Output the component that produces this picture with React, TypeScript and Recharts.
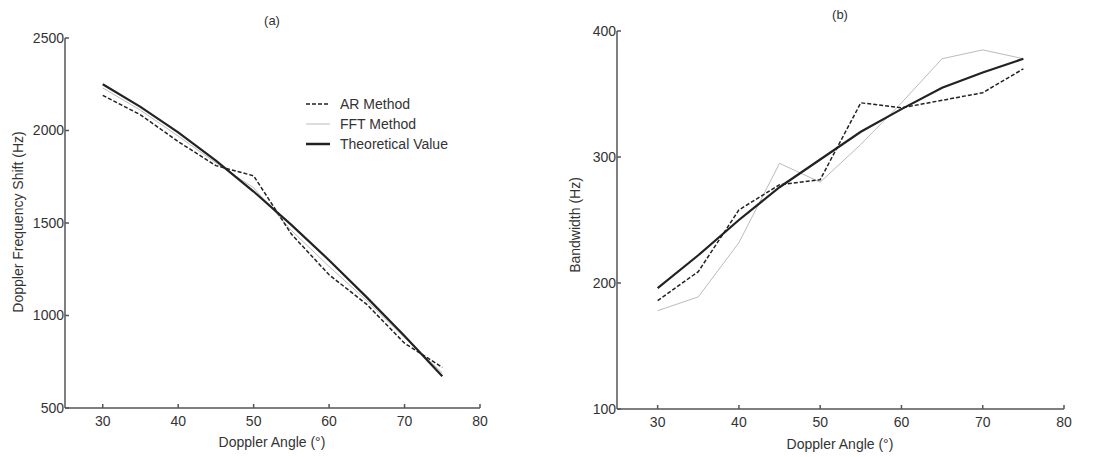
import React from 'react';
import { LineChart, Line, XAxis, YAxis } from 'recharts';

const angles = [30, 35, 40, 45, 50, 55, 60, 65, 70, 75];
const freqAR = [2190, 2085, 1940, 1810, 1755, 1440, 1220, 1060, 850, 720];
const freqFFT = [2230, 2110, 1970, 1825, 1690, 1460, 1265, 1080, 880, 690];
const freqTheory = [2250, 2128, 1990, 1837, 1670, 1490, 1299, 1098, 889, 672];

const bwAR = [186, 209, 258, 278, 282, 343, 339, 345, 351, 370];
const bwFFT = [178, 189, 232, 295, 280, 310, 343, 378, 385, 378];
const bwTheory = [196, 222, 250, 276, 298, 320, 338, 355, 367, 378];

const xTicks = [30, 40, 50, 60, 70, 80];
const freqTicks = [500, 1000, 1500, 2000, 2500];
const bwTicks = [100, 200, 300, 400];

const seriesNames = ['AR Method', 'FFT Method', 'Theoretical Value'];

const freqData = angles.map((a, i) => ({ angle: a, ar: freqAR[i], fft: freqFFT[i], theory: freqTheory[i] }));
const bwData = angles.map((a, i) => ({ angle: a, ar: bwAR[i], fft: bwFFT[i], theory: bwTheory[i] }));

const FONT = '"Liberation Sans", Arial, sans-serif';
const TEXT = '#333';
const AXIS = '#555';

const tickStyle = { fontSize: 14, fill: TEXT, fontFamily: FONT };

const legendStyles = [
  { stroke: '#222', strokeWidth: 1.5, dash: '4 2' },
  { stroke: '#bbb', strokeWidth: 1, dash: undefined as string | undefined },
  { stroke: '#222', strokeWidth: 2.5, dash: undefined as string | undefined },
];

const renderLines = () => [
  <Line key="fft" type="linear" dataKey="fft" name={seriesNames[1]} stroke="#bbb" strokeWidth={1} dot={false} isAnimationActive={false} />,
  <Line key="theory" type="linear" dataKey="theory" name={seriesNames[2]} stroke="#222" strokeWidth={2.2} dot={false} isAnimationActive={false} />,
  <Line key="ar" type="linear" dataKey="ar" name={seriesNames[0]} stroke="#222" strokeWidth={1.5} strokeDasharray="4 2" dot={false} isAnimationActive={false} />,
];

export default function App() {
  return (
    <div style={{ position: 'absolute', left: 0, top: 0, width: 1114, height: 457, background: '#fff', fontFamily: FONT }}>
      <div style={{ position: 'absolute', left: 0, top: 0 }}>
        <LineChart width={557} height={457} data={freqData} margin={{ top: 38, right: 77, bottom: 9, left: 15 }}>
          <XAxis dataKey="angle" type="number" domain={[25, 80]} ticks={xTicks} stroke={AXIS} strokeWidth={1.5}
            tick={tickStyle} tickSize={-4} tickMargin={12} height={40} />
          <YAxis type="number" domain={[500, 2500]} ticks={freqTicks} stroke={AXIS} strokeWidth={1.5}
            tick={tickStyle} tickSize={-4} tickMargin={5} width={50} />
          {renderLines()}
        </LineChart>
      </div>
      <div style={{ position: 'absolute', left: 557, top: 0 }}>
        <LineChart width={557} height={457} data={bwData} margin={{ top: 31, right: 50, bottom: 8, left: 10 }}>
          <XAxis dataKey="angle" type="number" domain={[25, 80]} ticks={xTicks} stroke={AXIS} strokeWidth={1.5}
            tick={tickStyle} tickSize={-4} tickMargin={12} height={40} />
          <YAxis type="number" domain={[100, 400]} ticks={bwTicks} stroke={AXIS} strokeWidth={1.5}
            tick={tickStyle} tickSize={-4} tickMargin={5} width={50} />
          {renderLines()}
        </LineChart>
      </div>
      <svg width={1114} height={457} style={{ position: 'absolute', left: 0, top: 0, pointerEvents: 'none' }}>
        <g fontFamily={FONT} fontSize={14} fill={TEXT}>
          <text x={272} y={25} textAnchor="middle" fontSize={13}>(a)</text>
          <text x={840} y={19} textAnchor="middle" fontSize={13}>(b)</text>
          <text x={272} y={447} textAnchor="middle">Doppler Angle (°)</text>
          <text x={840} y={449} textAnchor="middle">Doppler Angle (°)</text>
          <text x={23} y={222} textAnchor="middle" transform="rotate(-90 23 222)">Doppler Frequency Shift (Hz)</text>
          <text x={580} y={225} textAnchor="middle" transform="rotate(-90 580 225)">Bandwidth (Hz)</text>
        </g>
        <g transform="translate(306, 94)">
          {seriesNames.map((n, i) => (
            <g key={n}>
              <line x1={0} x2={24} y1={10 + i * 20} y2={10 + i * 20} stroke={legendStyles[i].stroke}
                strokeWidth={legendStyles[i].strokeWidth} strokeDasharray={legendStyles[i].dash} />
              <text x={34} y={15 + i * 20} fontSize={14} fill={TEXT} fontFamily={FONT}>{n}</text>
            </g>
          ))}
        </g>
      </svg>
    </div>
  );
}
